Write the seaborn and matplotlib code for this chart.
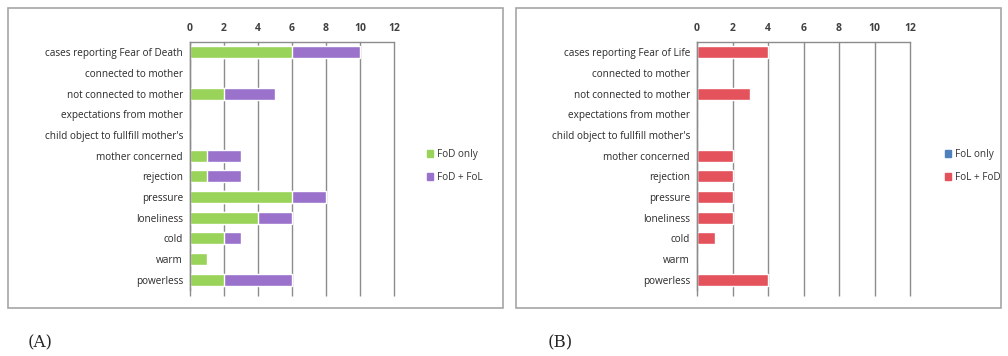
import seaborn as sns
import matplotlib.pyplot as plt
import pandas as pd
from matplotlib.patches import Patch, Rectangle

# categorias (de cima para baixo)
cats_a = ["cases reporting Fear of Death", "connected to mother", "not connected to mother",
          "expectations from mother", "child object to fullfill mother's", "mother concerned",
          "rejection", "pressure", "loneliness", "cold", "warm", "powerless"]
cats_b = ["cases reporting Fear of Life"] + cats_a[1:]

fod_only = [6, 0, 2, 0, 0, 1, 1, 6, 4, 2, 1, 2]
fod_fol = [4, 0, 3, 0, 0, 2, 2, 2, 2, 1, 0, 4]
fol_only = [0, 0, 0, 0, 0, 0, 0, 0, 0, 0, 0, 0]
fol_fod = [4, 0, 3, 0, 0, 2, 2, 2, 2, 1, 0, 4]

x_ticks = [0, 2, 4, 6, 8, 10, 12]

GREEN = "#9ad35a"
PURPLE = "#9a72cc"
BLUE = "#4f81bd"
RED = "#e4525b"
GRID = "#8c8c8c"

sns.set_style("white")
plt.rcParams["font.family"] = ["Open Sans", "DejaVu Sans"]

fig = plt.figure(figsize=(10.08, 3.56), dpi=100)

# caixas cinzas ao redor de cada grafico
for x0, x1 in [(8, 503), (516, 1001)]:
    fig.patches.append(Rectangle((x0 / 1008, 1 - 308 / 356), (x1 - x0) / 1008, 300 / 356,
                                 transform=fig.transFigure, fill=False,
                                 edgecolor="#a6a6a6", linewidth=1.2))


def painel(ax, cats, first, second, c1, c2, labels):
    df = pd.DataFrame({"cat": cats, "first": first, "total": [a + b for a, b in zip(first, second)]})
    sns.barplot(data=df, y="cat", x="total", color=c2, width=0.58, ax=ax,
                saturation=1, order=cats)
    sns.barplot(data=df, y="cat", x="first", color=c1, width=0.58, ax=ax,
                saturation=1, order=cats)
    ax.set_xlim(0, 12)
    ax.set_xticks(x_ticks)
    ax.xaxis.tick_top()
    ax.tick_params(axis="x", top=False, bottom=True, labeltop=True, labelbottom=False,
                   length=4, width=1, color=GRID, pad=2, labelsize=7.5, labelcolor="#404040")
    ax.tick_params(axis="y", length=0, pad=5, labelsize=7.2, labelcolor="#2a2a2a")
    for t in ax.get_xticklabels():
        t.set_fontweight("bold")
    ax.set_xlabel("")
    ax.set_ylabel("")
    ax.grid(axis="x", color=GRID, linewidth=1)
    for gl in ax.get_xgridlines():
        gl.set_clip_on(False)
    ax.set_axisbelow(True)
    for s in ["right", "bottom"]:
        ax.spines[s].set_visible(False)
    for s in ["top", "left"]:
        ax.spines[s].set_color(GRID)
        ax.spines[s].set_linewidth(1)
    handles = [Patch(color=c1, label=labels[0]), Patch(color=c2, label=labels[1])]
    ax.legend(handles=handles, loc="center left", bbox_to_anchor=(1.12, 0.5),
              frameon=False, fontsize=7.2, handlelength=0.6, handleheight=0.6,
              handletextpad=0.4, labelspacing=1.2, labelcolor="#333333")


ax_a = fig.add_axes([190 / 1008, 1 - 290 / 356, 204 / 1008, 248 / 356])
painel(ax_a, cats_a, fod_only, fod_fol, GREEN, PURPLE, ["FoD only", "FoD + FoL"])

ax_b = fig.add_axes([697 / 1008, 1 - 290 / 356, 213 / 1008, 248 / 356])
painel(ax_b, cats_b, fol_only, fol_fod, BLUE, RED, ["FoL only", "FoL + FoD"])

fig.text(28 / 1008, 1 - 343 / 356, "(A)", fontsize=12, family="DejaVu Serif", va="center")
fig.text(548 / 1008, 1 - 343 / 356, "(B)", fontsize=12, family="DejaVu Serif", va="center")

fig.savefig("out.png", dpi=100)
